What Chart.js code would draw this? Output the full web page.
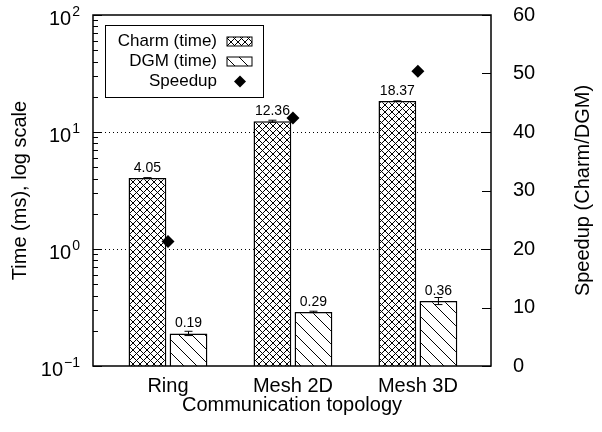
<!DOCTYPE html>
<html>
<head>
<meta charset="utf-8">
<script src="https://cdn.jsdelivr.net/npm/chart.js@4.4.1/dist/chart.umd.min.js"></script>
<style>
  html, body { margin: 0; padding: 0; background: #fff; }
  #wrap { width: 602px; height: 432px; }
</style>
</head>
<body>
<div id="wrap"><canvas id="chart"></canvas></div>
<script>
// data
const topologies = ['Ring', 'Mesh 2D', 'Mesh 3D'];
const charmTime = [4.05, 12.36, 18.37];
const dgmTime = [0.19, 0.29, 0.36];
const charmErr = [0.02, 0.25, 0.1];
const dgmErr = [0.008, 0.004, 0.025];
const speedup = [21.3, 42.4, 50.4];
const timeTicks = [0.1, 1, 10, 100];
const timeExponents = ['\u22121', '0', '1', '2'];

const FONT = "'Liberation Sans', Arial, Helvetica, sans-serif";
Chart.defaults.font.family = FONT;
Chart.defaults.color = '#000';

const canvas = document.getElementById('chart');

function makePattern(size, cross) {
    const c = document.createElement('canvas');
    c.width = size;
    c.height = size;
    const g = c.getContext('2d');
    g.fillStyle = '#fff';
    g.fillRect(0, 0, size, size);
    g.strokeStyle = '#000';
    g.lineWidth = 1;
    g.beginPath();
    for (let k = -1; k <= 1; k++) {
        g.moveTo(k * size, 0);
        g.lineTo(k * size + size, size);
        if (cross) {
            g.moveTo(k * size, size);
            g.lineTo(k * size + size, 0);
        }
    }
    g.stroke();
    return canvas.getContext('2d').createPattern(c, 'repeat');
}

const crossHatch = makePattern(7, true);
const diagHatch = makePattern(13, false);

const errors = { 1: charmErr, 2: dgmErr };

// strip the label overflow padding so the plot box lands where we want
function noPad(s) {
    s.paddingTop = 0;
    s.paddingBottom = 0;
    s.paddingLeft = 0;
    s.paddingRight = 0;
}

const decorations = {
    id: 'decorations',
    beforeDatasetsDraw(chart) {
        const { ctx, chartArea: a, scales: { y } } = chart;
        ctx.save();
        ctx.strokeStyle = '#000';
        ctx.lineWidth = 1;
        ctx.setLineDash([1, 3]);
        [1, 10].forEach(v => {
            const py = Math.round(y.getPixelForValue(v)) + 0.5;
            ctx.beginPath();
            ctx.moveTo(a.left, py);
            ctx.lineTo(a.right, py);
            ctx.stroke();
        });
        ctx.restore();
    },
    afterDatasetDraw(chart, args) {
        const errs = errors[args.index];
        if (!errs) return;
        const { ctx, scales: { y } } = chart;
        const ds = chart.data.datasets[args.index];
        ctx.save();
        ctx.strokeStyle = '#000';
        ctx.lineWidth = 1;
        args.meta.data.forEach((bar, i) => {
            const v = ds.data[i].y;
            const hi = y.getPixelForValue(v + errs[i]);
            const lo = y.getPixelForValue(v - errs[i]);
            ctx.beginPath();
            ctx.moveTo(bar.x, hi);
            ctx.lineTo(bar.x, lo);
            ctx.moveTo(bar.x - 4, hi);
            ctx.lineTo(bar.x + 4, hi);
            ctx.moveTo(bar.x - 4, lo);
            ctx.lineTo(bar.x + 4, lo);
            ctx.stroke();
            ctx.font = '14px ' + FONT;
            ctx.fillStyle = '#000';
            ctx.textAlign = 'center';
            ctx.textBaseline = 'middle';
            ctx.fillText(v.toFixed(2), bar.x, bar.y - 10);
        });
        ctx.restore();
    },
    afterDraw(chart) {
        const { ctx, chartArea: a, scales: { y, y2 } } = chart;
        ctx.save();
        ctx.strokeStyle = '#000';
        ctx.lineWidth = 1;
        // inward ticks
        ctx.beginPath();
        [0.1, 1, 10].forEach(d => {
            for (let m = 2; m <= 9; m++) {
                const py = Math.round(y.getPixelForValue(d * m)) + 0.5;
                ctx.moveTo(a.left, py);
                ctx.lineTo(a.left + 5, py);
            }
        });
        timeTicks.forEach(v => {
            const py = Math.round(y.getPixelForValue(v)) + 0.5;
            ctx.moveTo(a.left, py);
            ctx.lineTo(a.left + 9, py);
        });
        for (let v = 0; v <= 60; v += 10) {
            const py = Math.round(y2.getPixelForValue(v)) + 0.5;
            ctx.moveTo(a.right - 9, py);
            ctx.lineTo(a.right, py);
        }
        ctx.stroke();

        // frame
        ctx.lineWidth = 1.5;
        ctx.strokeRect(a.left, a.top, a.right - a.left, a.bottom - a.top);

        // left tick labels with exponents
        ctx.fillStyle = '#000';
        ctx.textBaseline = 'alphabetic';
        ctx.textAlign = 'left';
        timeTicks.forEach((v, i) => {
            const py = y.getPixelForValue(v);
            ctx.font = '20px ' + FONT;
            const wBase = ctx.measureText('10').width;
            ctx.font = '14px ' + FONT;
            const wExp = ctx.measureText(timeExponents[i]).width;
            const x0 = 79 - wBase - wExp;
            ctx.font = '20px ' + FONT;
            ctx.fillText('10', x0, py + 10);
            ctx.font = '14px ' + FONT;
            ctx.fillText(timeExponents[i], x0 + wBase + 1, py + 1);
        });

        // right axis title
        ctx.save();
        ctx.translate(583, (a.top + a.bottom) / 2);
        ctx.rotate(-Math.PI / 2);
        ctx.font = '20px ' + FONT;
        ctx.textAlign = 'center';
        ctx.textBaseline = 'middle';
        ctx.fillText('Speedup (Charm/DGM)', 0, 0);
        ctx.restore();

        // legend
        ctx.lineWidth = 1;
        ctx.strokeRect(105.5, 25.5, 158, 72);
        const rows = [
            { ds: chart.data.datasets[1], kind: 'bar' },
            { ds: chart.data.datasets[2], kind: 'bar' },
            { ds: chart.data.datasets[0], kind: 'point' }
        ];
        rows.forEach((r, i) => {
            const cy = 41.5 + i * 20;
            ctx.font = '17px ' + FONT;
            ctx.textAlign = 'right';
            ctx.textBaseline = 'middle';
            ctx.fillStyle = '#000';
            ctx.fillText(r.ds.label, 217, cy);
            if (r.kind === 'bar') {
                ctx.fillStyle = r.ds.backgroundColor;
                ctx.fillRect(227, cy - 4.5, 25, 9);
                ctx.strokeRect(227, cy - 4.5, 25, 9);
            } else {
                ctx.beginPath();
                ctx.moveTo(240 - 6, cy);
                ctx.lineTo(240, cy - 6);
                ctx.lineTo(240 + 6, cy);
                ctx.lineTo(240, cy + 6);
                ctx.closePath();
                ctx.fillStyle = '#000';
                ctx.fill();
            }
        });
        ctx.restore();
    }
};

new Chart(canvas, {
    data: {
        datasets: [
            {
                type: 'line',
                label: 'Speedup',
                yAxisID: 'y2',
                data: topologies.map((t, i) => ({ x: i, y: speedup[i] })),
                showLine: false,
                pointStyle: 'rectRot',
                pointRadius: 6.5,
                pointBackgroundColor: '#000',
                pointBorderColor: '#000',
                pointBorderWidth: 0
            },
            {
                type: 'bar',
                label: 'Charm (time)',
                yAxisID: 'y',
                data: topologies.map((t, i) => ({ x: i, y: charmTime[i] })),
                backgroundColor: crossHatch,
                borderColor: '#000',
                borderWidth: 1.5,
                categoryPercentage: 0.657,
                barPercentage: 0.92
            },
            {
                type: 'bar',
                label: 'DGM (time)',
                yAxisID: 'y',
                data: topologies.map((t, i) => ({ x: i, y: dgmTime[i] })),
                backgroundColor: diagHatch,
                borderColor: '#000',
                borderWidth: 1.5,
                categoryPercentage: 0.657,
                barPercentage: 0.92
            }
        ]
    },
    options: {
        responsive: true,
        maintainAspectRatio: false,
        animation: false,
        layout: { padding: { top: 15, left: 0, right: 0, bottom: 0 } },
        plugins: {
            legend: { display: false },
            tooltip: { enabled: false }
        },
        scales: {
            x: {
                type: 'linear',
                position: 'bottom',
                offset: false,
                min: -0.6,
                max: 2.585,
                afterBuildTicks: s => { s.ticks = topologies.map((t, i) => ({ value: i })); },
                afterFit: s => { s.height = 66; noPad(s); },
                ticks: {
                    callback: v => topologies[v] ?? '',
                    font: { size: 20 },
                    color: '#000',
                    padding: 8,
                    maxRotation: 0,
                    autoSkip: false
                },
                grid: { display: false, drawTicks: false, offset: false },
                border: { display: false },
                title: {
                    display: true,
                    text: 'Communication topology',
                    font: { size: 20 },
                    color: '#000',
                    padding: { top: 0, bottom: 15 }
                }
            },
            y: {
                type: 'logarithmic',
                position: 'left',
                min: 0.1,
                max: 100,
                afterFit: s => { s.width = 93; noPad(s); },
                ticks: { display: false },
                grid: { display: false, drawTicks: false },
                border: { display: false },
                title: {
                    display: true,
                    text: 'Time (ms), log scale',
                    font: { size: 20 },
                    color: '#000',
                    padding: { top: 8, bottom: 0 }
                }
            },
            y2: {
                type: 'linear',
                position: 'right',
                min: 0,
                max: 60,
                afterFit: s => { s.width = 111; noPad(s); },
                ticks: { stepSize: 10, font: { size: 20 }, color: '#000', padding: 22 },
                grid: { display: false, drawTicks: false },
                border: { display: false }
            }
        }
    },
    plugins: [decorations]
});
</script>
</body>
</html>
